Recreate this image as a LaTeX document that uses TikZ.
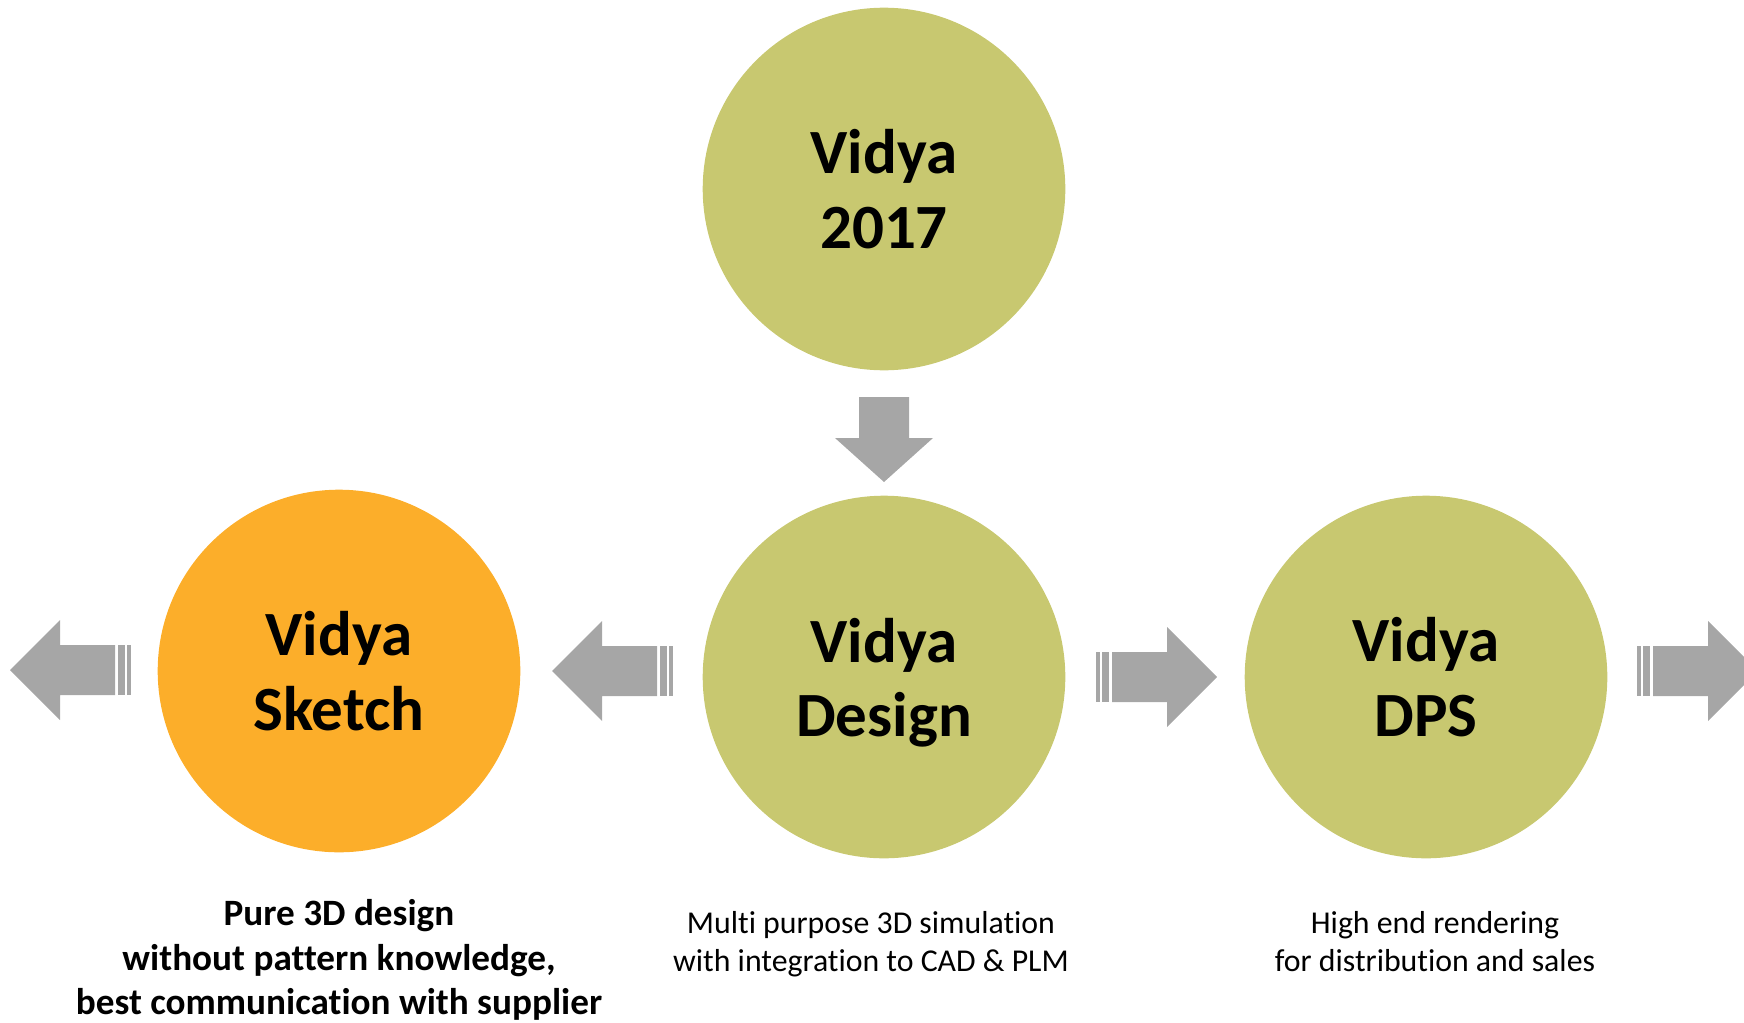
\documentclass[tikz,border=0pt]{standalone}
\usepackage{fontspec}
\setmainfont{Carlito}[Ligatures=NoCommon]
\definecolor{vidyagreen}{HTML}{C8C870}
\definecolor{vidyaorange}{HTML}{FCAE2A}
\definecolor{arrowgray}{HTML}{A6A6A6}
\tikzset{
  bubble/.style={circle, fill=vidyagreen, inner sep=0pt, minimum size=181.3pt,
    align=center, font=\fontsize{31.5}{37.25}\selectfont\bfseries},
  note/.style={align=center, inner sep=0pt, font=\fontsize{15.9}{19}\selectfont},
  boldnote/.style={note, font=\fontsize{18.6}{22.25}\selectfont\bfseries},
  pics/blockarrow/.style={code={
    \fill[arrowgray] (-121,-25) rectangle (-117,25);
    \fill[arrowgray] (-115,-25) rectangle (-108,25);
    \fill[arrowgray] (-105,-25) -- (-50,-25) -- (-50,-50) -- (0,0)
      -- (-50,50) -- (-50,25) -- (-105,25) -- cycle;
  }}
}
\begin{document}
\begin{tikzpicture}[x=0.5pt, y=-0.5pt]
  \useasboundingbox (0,0) rectangle (1744,1022);
  \clip (0,0) rectangle (1744,1022);
  % circles
  \node[bubble] (v2017) at (884,189) {Vidya\\2017};
  \node[bubble, fill=vidyaorange] (sketch) at (339,671) {Vidya\\Sketch};
  \node[bubble] (design) at (884,677) {\raisebox{0pt}[28pt]{Vidya}\\Design};
  \node[bubble] (dps) at (1426,677) {Vidya\\DPS};
  % texts below
  \node[boldnote] (sketchnote) at (339,960)
    {Pure 3D design\\without pattern knowledge,\\best communication with supplier};
  \node[note] (designnote) at (871,944)
    {Multi purpose 3D simulation\\with integration to CAD \& PLM};
  \node[note] (dpsnote) at (1435,942)
    {High end rendering\\for distribution and sales};
  % block arrows
  \fill[arrowgray] (859,397) -- (909,397) -- (909,438) -- (933,438)
    -- (884,482) -- (835,438) -- (859,438) -- cycle;
  \pic[xscale=-1] at (10,670) {blockarrow};
  \pic[xscale=-1] at (552,671) {blockarrow};
  \pic at (1217,677) {blockarrow};
  \pic at (1758,671) {blockarrow};
\end{tikzpicture}
\end{document}
